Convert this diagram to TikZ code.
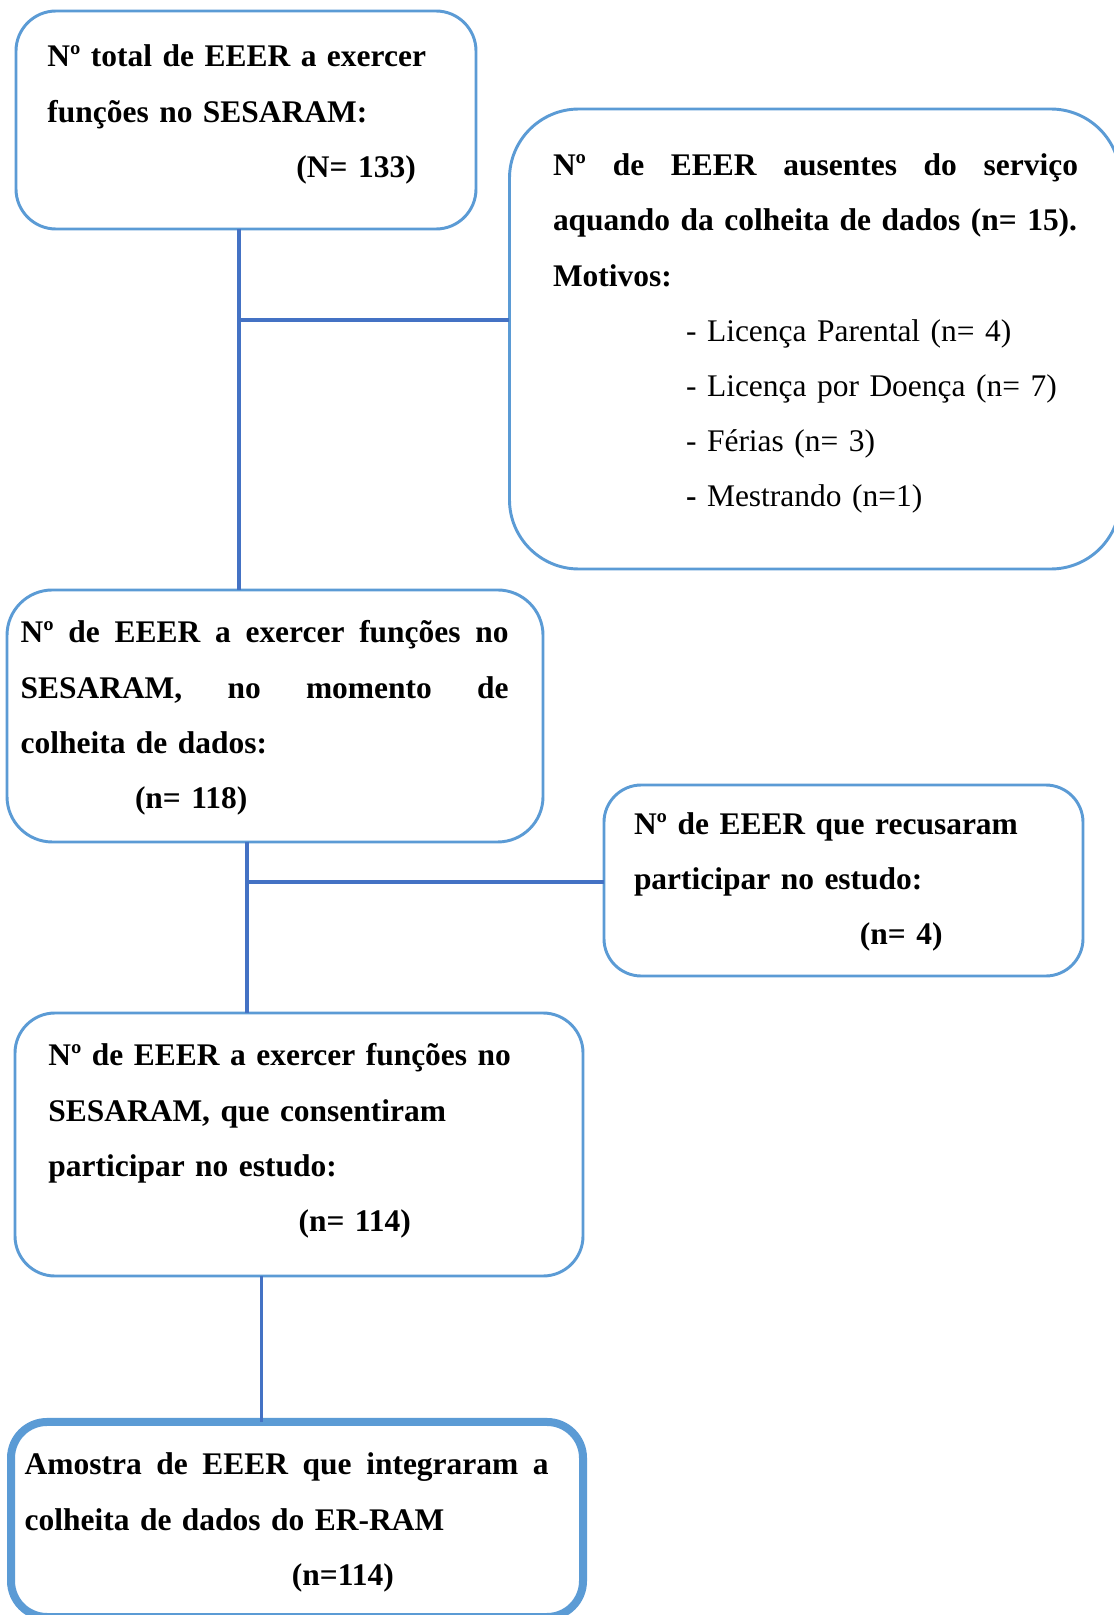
\documentclass[tikz,border=0pt]{standalone}
\usepackage{fontspec}
\setmainfont{Liberation Serif}[WordSpace=0.85]
\usepackage{xcolor}
\usepackage{tikz}
\frenchspacing

\begin{document}
\begin{tikzpicture}[x=1pt,y=1pt,
  box/.style={draw=boxColor,line width=1.1pt,rounded corners=15pt,inner sep=0pt,outer sep=0pt,anchor=north west},
  boxwide/.style={box,line width=3pt,rounded corners=13.5pt},
  conn/.style={draw=lineColor,line width=1.2pt},
  txt/.style={anchor=base west,inner sep=0pt,outer sep=0pt,align=left,font=\fontsize{11.8}{20.63}\selectfont\bfseries}]
\definecolor{fillColor}{RGB}{255,255,255}
\definecolor{boxColor}{RGB}{91,155,213}
\definecolor{lineColor}{RGB}{68,114,196}
\path[use as bounding box,fill=fillColor] (0,0) rectangle (417.75,605.63);
\begin{scope}
\path[clip] (  0.00,  0.00) rectangle (417.75,605.63);

% boxes
\node[box,minimum width=172.50pt,minimum height= 81.75pt] (boxA) at (  6.00,601.50) {};

\node[box,minimum width=229.00pt,minimum height=172.50pt,rounded corners=26pt] (boxB) at (191.06,564.75) {};

\node[box,minimum width=201.00pt,minimum height= 94.50pt,rounded corners=17pt] (boxC) at (  2.63,384.38) {};

\node[box,minimum width=179.63pt,minimum height= 71.63pt,rounded corners=14pt] (boxD) at (226.50,311.25) {};

\node[box,minimum width=213.00pt,minimum height= 98.63pt] (boxE) at (  5.63,225.75) {};

\node[boxwide,minimum width=214.50pt,minimum height= 73.13pt] (boxF) at (  4.13, 72.38) {};

% texts
\node[txt,text width=150.00pt] (txtA) at ( 17.78,580.50) {Nº total de EEER a exercer\\
funções no SESARAM:\\
\hspace*{93.4pt}(N= 133)};

\node[txt,text width=196.88pt] (txtB) at (207.38,539.63) {Nº\hfill de\hfill EEER\hfill ausentes\hfill do\hfill serviço\\
\mbox{aquando da colheita de dados (n= 15).}\\
Motivos:\\
\mdseries\hspace*{49.9pt}- Licença Parental (n= 4)\\
\hspace*{49.9pt}- Licença por Doença (n= 7)\\
\hspace*{49.9pt}- Férias (n= 3)\\
\hspace*{49.9pt}\textbf{-} Mestrando (n=1)};

\node[txt,text width=183.00pt] (txtC) at (  7.73,364.50) {Nº\hfill de\hfill EEER\hfill a\hfill exercer\hfill funções\hfill no\\
SESARAM,\hfill no\hfill momento\hfill de\\
colheita de dados:\\
\hspace*{42.9pt}(n= 118)};

\node[txt,text width=160.00pt] (txtD) at (237.75,292.61) {Nº de EEER que recusaram\\
participar no estudo:\\
\hspace*{84.75pt}(n= 4)};

\node[txt,text width=180.00pt] (txtE) at ( 18.15,205.88) {Nº de EEER a exercer funções no\\
SESARAM, que consentiram\\
participar no estudo:\\
\hspace*{93.8pt}(n= 114)};

\node[txt,text width=196.50pt] (txtF) at (  9.26, 52.50) {Amostra\hfill de\hfill EEER\hfill que\hfill integraram\hfill a\\
colheita de dados do ER-RAM\\
\hspace*{100.2pt}(n=114)};

% connectors
\coordinate (jA) at ( 89.63,485.63);
\coordinate (jC) at ( 92.63,274.88);
\coordinate (jE) at ( 98.06,150.00);

\path[conn] (boxA.south -| jA) -- (boxC.north -| jA);

\path[conn] (jA) -- (jA -| boxB.west);

\path[conn] (boxC.south -| jC) -- (boxE.north -| jC);

\path[conn] (jC) -- (jC -| boxD.west);

\path[conn] (boxE.south -| jE) -- (boxF.north -| jE);
\end{scope}
\end{tikzpicture}
\end{document}
